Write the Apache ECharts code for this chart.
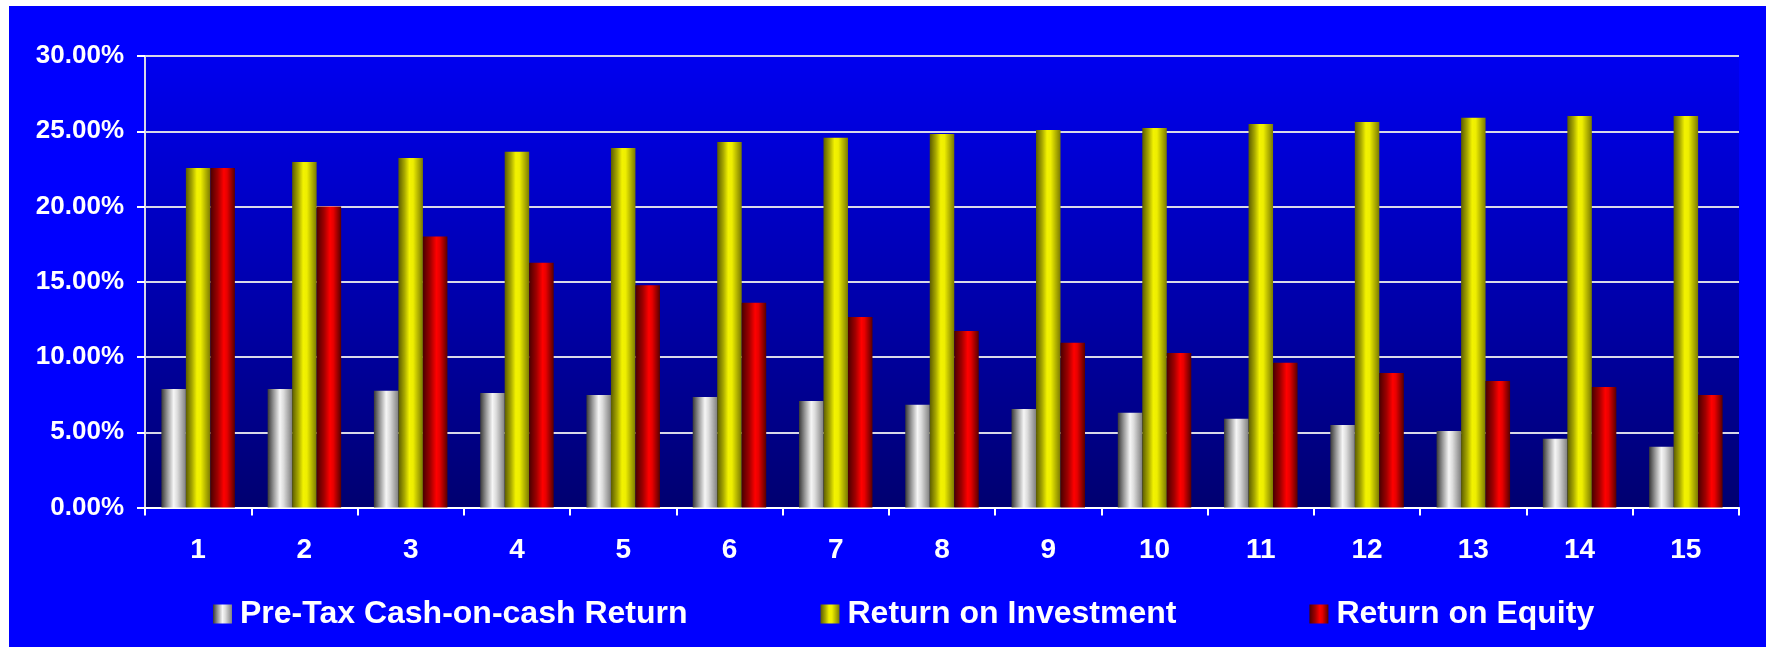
<!DOCTYPE html>
<html>
<head>
<meta charset="utf-8">
<script src="https://cdn.jsdelivr.net/npm/echarts@6/dist/echarts.min.js"></script>
<style>
  html, body { margin: 0; padding: 0; background: #ffffff; width: 1766px; height: 647px; overflow: hidden; }
  #chart { position: absolute; left: 9px; top: 6px; width: 1757px; height: 641px; }
</style>
</head>
<body>
<div id="chart"></div>
<script>
const categories = ['1','2','3','4','5','6','7','8','9','10','11','12','13','14','15'];
const seriesNames = ['Pre-Tax Cash-on-cash Return', 'Return on Investment', 'Return on Equity'];
const cashOnCash = [7.88, 7.88, 7.75, 7.61, 7.48, 7.35, 7.08, 6.82, 6.55, 6.29, 5.89, 5.49, 5.09, 4.56, 4.03];
const roi = [22.55, 22.96, 23.23, 23.63, 23.89, 24.29, 24.56, 24.82, 25.09, 25.22, 25.48, 25.62, 25.89, 26.02, 26.02];
const roe = [22.55, 20.0, 18.0, 16.27, 14.77, 13.6, 12.66, 11.73, 10.94, 10.27, 9.61, 8.94, 8.41, 8.01, 7.48];
const yTicks = { min: 0, max: 30, interval: 5 };

const G = echarts.graphic.LinearGradient;
const grayGrad = new G(0, 0, 1, 0, [
  { offset: 0, color: '#383838' }, { offset: 0.25, color: '#9a9a9a' },
  { offset: 0.5, color: '#f6f6f6' }, { offset: 0.65, color: '#dcdcdc' },
  { offset: 1, color: '#808080' }]);
const yellowGrad = new G(0, 0, 1, 0, [
  { offset: 0, color: '#5c5c00' }, { offset: 0.25, color: '#a8a800' },
  { offset: 0.45, color: '#f2f200' }, { offset: 0.6, color: '#eeee00' },
  { offset: 1, color: '#7a7a00' }]);
const redGrad = new G(0, 0, 1, 0, [
  { offset: 0, color: '#4a0000' }, { offset: 0.3, color: '#a00000' },
  { offset: 0.55, color: '#ff0000' }, { offset: 0.68, color: '#e80000' },
  { offset: 1, color: '#580000' }]);

const chart = echarts.init(document.getElementById('chart'), null, { renderer: 'canvas' });
const font = '"Liberation Sans", Arial, sans-serif';
chart.setOption({
  backgroundColor: '#0000ff',
  animation: false,
  grid: {
    left: 136, top: 50, right: 27, bottom: 139.5,
    show: true, borderWidth: 0,
    backgroundColor: new G(0, 0, 0, 1, [
      { offset: 0, color: '#0000f0' }, { offset: 1, color: '#000070' }])
  },
  legend: {
    left: 199, top: 587,
    itemWidth: 19, itemHeight: 19, itemGap: 133,
    icon: 'rect',
    textStyle: { color: '#ffffff', fontFamily: font, fontWeight: 'bold', fontSize: 32, padding: [0, 0, 0, 3] },
    data: seriesNames
  },
  xAxis: {
    type: 'category',
    data: categories,
    axisLine: { show: true, lineStyle: { color: '#ffffff', width: 2 } },
    axisTick: { show: true, length: 8, lineStyle: { color: '#ffffff', width: 2 } },
    axisLabel: { color: '#ffffff', fontFamily: font, fontWeight: 'bold', fontSize: 28, margin: 29 },
    splitLine: { show: false }
  },
  yAxis: {
    type: 'value',
    min: yTicks.min, max: yTicks.max, interval: yTicks.interval,
    axisLine: { show: true, lineStyle: { color: '#d8d8e8', width: 2 } },
    axisTick: { show: true, length: 8, lineStyle: { color: '#ffffff', width: 2 } },
    axisLabel: { color: '#ffffff', fontFamily: font, fontWeight: 'bold', fontSize: 26, margin: 21,
      formatter: v => v.toFixed(2) + '%' },
    splitLine: { show: true, lineStyle: { color: '#d8d8e8', width: 2 } }
  },
  series: [
    { name: seriesNames[0], type: 'bar', data: cashOnCash, barWidth: 24.5, barGap: '0%', itemStyle: { color: grayGrad } },
    { name: seriesNames[1], type: 'bar', data: roi, barWidth: 24.5, barGap: '0%', itemStyle: { color: yellowGrad } },
    { name: seriesNames[2], type: 'bar', data: roe, barWidth: 24.5, barGap: '0%', itemStyle: { color: redGrad } }
  ]
});
</script>
</body>
</html>
